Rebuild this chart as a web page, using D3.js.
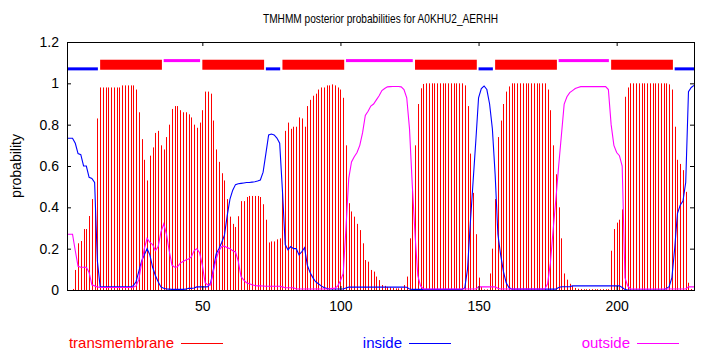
<!DOCTYPE html>
<html><head><meta charset="utf-8">
<script src="https://cdn.jsdelivr.net/npm/d3@7"></script>
<style>body{margin:0;background:#fff} text{font-family:"Liberation Sans",Arial,Helvetica,sans-serif}</style>
</head><body><svg id="c" width="710" height="350"></svg>
<script>
const title = "TMHMM posterior probabilities for A0KHU2_AERHH";
const seqLength = 228;
const yTicks = [0, 0.2, 0.4, 0.6, 0.8, 1, 1.2];
const xTicks = [50, 100, 150, 200];
const legendLabels = ["transmembrane", "inside", "outside"];

const tm = [
0,0,0.005,0.097,0.226,0.237,0.295,0.295,0.358,0.44,
0.40,0.83,0.98,0.98,0.98,0.98,0.98,0.98,0.98,0.98,
0.99,0.99,0.99,0.99,0.99,0.97,0.86,0.73,0.63,0.53,
0.65,0.69,0.76,0.77,0.70,0.68,0.74,0.80,0.876,0.89,
0.89,0.87,0.86,0.86,0.85,0.835,0.80,0.785,0.81,0.87,
0.96,0.96,0.95,0.82,0.68,0.62,0.565,0.53,0.44,0.355,
0.32,0.305,0.357,0.43,0.43,0.45,0.455,0.455,0.455,0.455,
0.45,0.415,0.34,0.23,0.235,0.235,0.245,0.25,0.48,0.77,
0.81,0.78,0.79,0.79,0.835,0.83,0.79,0.89,0.92,0.94,
0.95,0.97,0.98,0.98,0.99,0.99,0.995,0.99,0.98,0.97,
0.93,0.70,0.42,0.38,0.355,0.32,0.29,0.226,0.145,0.137,
0.097,0.089,0.065,0.048,0.024,0.02,0.015,0.013,0.01,0.008,
0.008,0.01,0.024,0.065,0.25,0.48,0.70,0.90,0.976,0.997,
1,1,1,1,1,1,1,1,1,1,
1,1,1,1,0.99,0.89,0.66,0.47,0.27,0.06,
0.015,0.003,0.003,0.08,0.20,0.44,0.74,0.82,0.90,0.96,
0.985,1,1,1,1,1,1,1,1,1,
1,1,1,1,0.97,0.87,0.70,0.56,0.40,0.25,
0.08,0.05,0.03,0.02,0.01,0.006,0.005,0.004,0.004,0.004,
0.004,0.004,0.004,0.004,0.004,0.004,0.004,0.19,0.295,0.326,
0.34,0.39,0.935,0.98,1,1,1,1,1,1,
1,1,1,1,1,1,1,1,0.995,0.97,
0.79,0.63,0.61,0.58,0.475,0.035,0.005,0
];

const inside = [
0.734,0.734,0.734,0.71,0.66,0.655,0.60,0.60,0.545,0.54,
0.52,0.14,0.015,0.015,0.015,0.015,0.015,0.015,0.015,0.015,
0.015,0.015,0.015,0.015,0.02,0.04,0.09,0.14,0.17,0.20,
0.17,0.11,0.07,0.04,0.015,0.008,0.005,0.004,0.003,0.003,
0.003,0.003,0.003,0.004,0.008,0.008,0.01,0.015,0.015,0.015,
0.015,0.016,0.035,0.10,0.175,0.20,0.23,0.265,0.36,0.44,
0.483,0.51,0.514,0.516,0.518,0.52,0.52,0.522,0.524,0.527,
0.532,0.57,0.66,0.75,0.755,0.75,0.735,0.71,0.48,0.22,
0.195,0.21,0.20,0.20,0.17,0.185,0.205,0.12,0.085,0.06,
0.04,0.03,0.02,0.012,0.008,0.005,0.005,0.005,0.005,0.005,
0.005,0.01,0.014,0.014,0.014,0.014,0.014,0.014,0.014,0.014,
0.014,0.014,0.014,0.014,0.014,0.014,0.014,0.014,0.014,0.014,
0.014,0.014,0.014,0.013,0.005,0.003,0.003,0.003,0.003,0.003,
0.003,0.003,0.003,0.003,0.003,0.003,0.003,0.003,0.003,0.003,
0.003,0.003,0.003,0.003,0.01,0.10,0.32,0.52,0.72,0.93,
0.975,0.987,0.97,0.90,0.78,0.56,0.27,0.17,0.09,0.035,
0.012,0.004,0.004,0.004,0.004,0.004,0.004,0.004,0.004,0.004,
0.004,0.004,0.004,0.004,0.004,0.004,0.004,0.004,0.012,0.016,
0.016,0.016,0.016,0.02,0.02,0.02,0.02,0.02,0.02,0.02,
0.02,0.02,0.02,0.02,0.02,0.02,0.02,0.02,0.02,0.02,
0.02,0.012,0.003,0,0,0,0,0,0,0,
0,0,0,0,0,0,0,0.008,0.016,0.06,
0.20,0.37,0.41,0.43,0.52,0.96,0.98,0.99
];

const outside = [
0.27,0.27,0.27,0.19,0.115,0.11,0.11,0.11,0.085,0.025,
0.02,0.015,0.012,0.012,0.012,0.012,0.012,0.012,0.012,0.012,
0.012,0.012,0.012,0.012,0.013,0.02,0.05,0.13,0.20,0.25,
0.23,0.22,0.19,0.21,0.28,0.32,0.27,0.19,0.12,0.11,
0.112,0.13,0.138,0.145,0.15,0.16,0.19,0.20,0.18,0.12,
0.035,0.025,0.025,0.09,0.15,0.19,0.21,0.213,0.205,0.20,
0.19,0.184,0.14,0.065,0.048,0.035,0.03,0.025,0.022,0.02,
0.02,0.019,0.018,0.018,0.018,0.018,0.018,0.018,0.015,0.011,
0.011,0.011,0.011,0.005,0.005,0.005,0.005,0.005,0.005,0.005,
0.005,0.005,0.005,0.005,0.005,0.006,0.008,0.008,0.02,0.045,
0.08,0.30,0.54,0.62,0.645,0.665,0.70,0.76,0.845,0.865,
0.89,0.90,0.92,0.94,0.965,0.975,0.983,0.984,0.985,0.985,
0.985,0.983,0.97,0.93,0.78,0.51,0.27,0.07,0.02,0.005,
0.005,0.005,0.005,0.005,0.005,0.005,0.005,0.005,0.005,0.005,
0.005,0.005,0.005,0.005,0.005,0.005,0.005,0.005,0.005,0.015,
0.015,0.015,0.015,0.015,0.015,0.015,0.008,0.005,0.005,0.005,
0.005,0.005,0.005,0.005,0.005,0.005,0.005,0.005,0.005,0.005,
0.005,0.005,0.005,0.005,0.03,0.13,0.29,0.44,0.60,0.75,
0.90,0.935,0.955,0.965,0.975,0.98,0.984,0.984,0.984,0.984,
0.984,0.984,0.984,0.984,0.984,0.984,0.97,0.80,0.70,0.665,
0.65,0.60,0.06,0.02,0.005,0.005,0.005,0.005,0.005,0.005,
0.005,0.005,0.005,0.005,0.005,0.005,0.005,0.005,0.005,0.005,
0.005,0.005,0.005,0.005,0.005,0.015,0.015,0.015
];

const segType  = ["inside","transmembrane","outside","transmembrane","inside","transmembrane","outside","transmembrane","inside","transmembrane","outside","transmembrane","inside"];
const segStart = [1, 13, 36, 50, 73, 79, 102, 127, 150, 156, 179, 198, 221];
const segEnd   = [12, 35, 49, 72, 78, 101, 126, 149, 155, 178, 197, 220, 228];

const color = {transmembrane: "#ff0000", inside: "#0000ff", outside: "#ff00ff"};
const segLevel = {inside: 1.07, transmembrane: 1.09, outside: 1.11};
const segThick = {inside: 3, transmembrane: 10, outside: 3};

const svg = d3.select("#c");
svg.append("rect").attr("width", 710).attr("height", 350).attr("fill", "#fff");

const L = 67, R = 694, T = 42, B = 290;
const x = d3.scaleLinear().domain([1, seqLength]).range([L, R]);
const y = d3.scaleLinear().domain([0, 1.2]).range([B, T]);
const residues = d3.range(1, seqLength + 1);

// impulses (transmembrane)
svg.append("g").selectAll("line").data(residues).join("line")
  .attr("x1", d => Math.round(x(d)) + 0.5).attr("x2", d => Math.round(x(d)) + 0.5)
  .attr("y1", y(0)).attr("y2", d => y(tm[d - 1]))
  .attr("stroke", color.transmembrane).attr("stroke-width", 1);

const lineGen = d3.line().x((d, i) => x(i + 1)).y(d => y(d));
svg.append("path").attr("d", lineGen(inside)).attr("fill", "none")
  .attr("stroke", color.inside).attr("stroke-width", 1.1);
svg.append("path").attr("d", lineGen(outside)).attr("fill", "none")
  .attr("stroke", color.outside).attr("stroke-width", 1.1);

// topology segments
svg.append("g").selectAll("rect").data(segType.map((t, i) => ({t, s: segStart[i], e: segEnd[i]}))).join("rect")
  .attr("x", d => x(d.s))
  .attr("width", d => x(d.e) - x(d.s) + (d.t === "transmembrane" ? 1 : 0.5))
  .attr("y", d => y(segLevel[d.t]) - segThick[d.t] / 2)
  .attr("height", d => segThick[d.t])
  .attr("fill", d => color[d.t]);

// axes
const fmt = d => String(d);
const gl = svg.append("g").attr("transform", `translate(${L},0)`)
  .call(d3.axisLeft(y).tickValues(yTicks).tickSizeInner(-4).tickSizeOuter(0).tickPadding(8).tickFormat(fmt));
const gb = svg.append("g").attr("transform", `translate(0,${B})`)
  .call(d3.axisBottom(x).tickValues(xTicks).tickSizeInner(-4).tickSizeOuter(0).tickPadding(11).tickFormat(fmt));
const gr = svg.append("g").attr("transform", `translate(${R},0)`)
  .call(d3.axisRight(y).tickValues(yTicks).tickSizeInner(-4).tickSizeOuter(0).tickFormat(""));
const gt = svg.append("g").attr("transform", `translate(0,${T})`)
  .call(d3.axisTop(x).tickValues(xTicks).tickSizeInner(-4).tickSizeOuter(0).tickFormat(""));
[gl, gb, gr, gt].forEach(g => {
  g.select(".domain").remove();
  g.selectAll(".tick line").attr("stroke", "#000");
  g.selectAll("text").attr("fill", "#000").style("font-size", "14px")
    .style("font-family", '"Liberation Sans", Arial, sans-serif');
});

svg.append("rect").attr("x", L + 0.5).attr("y", T + 0.5)
  .attr("width", R - L).attr("height", B - T)
  .attr("fill", "none").attr("stroke", "#000").attr("stroke-width", 1);

// title
svg.append("text").attr("x", 380.5).attr("y", 23).attr("text-anchor", "middle")
  .attr("textLength", 235).attr("lengthAdjust", "spacingAndGlyphs")
  .style("font-size", "13.5px").attr("fill", "#000").text(title);

// y label
svg.append("text").attr("transform", "translate(21,166) rotate(-90)")
  .attr("text-anchor", "middle").style("font-size", "14px").attr("fill", "#000").text("probability");

// legend
const legTextEnd = [174, 402, 630];
const legKeys = ["transmembrane", "inside", "outside"];
const lg = svg.append("g");
legKeys.forEach((k, i) => {
  lg.append("text").attr("x", legTextEnd[i]).attr("y", 348).attr("text-anchor", "end")
    .style("font-size", "15px").attr("fill", color[k]).text(legendLabels[i]);
  lg.append("rect").attr("x", legTextEnd[i] + 7).attr("width", 42)
    .attr("y", 343).attr("height", 1).attr("fill", color[k]);
});
</script></body></html>
